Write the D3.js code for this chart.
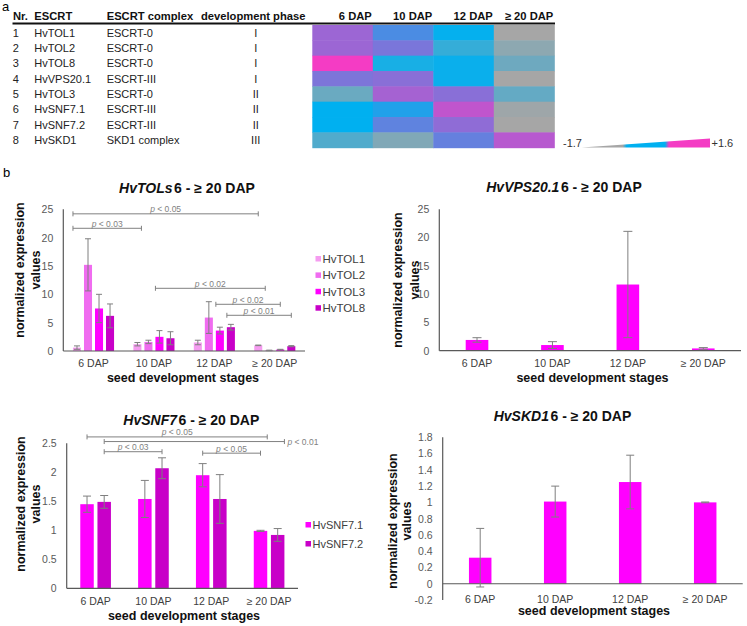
<!DOCTYPE html>
<html><head><meta charset="utf-8">
<script src="https://cdn.jsdelivr.net/npm/d3@7"></script>
<style>
body{margin:0;background:#fff}
svg{display:block;font-family:"Liberation Sans",Arial,sans-serif}
</style>
</head><body>
<svg id="c" width="747" height="626"></svg>
<script>
// ================= DATA =================
// Panel a: table + heatmap
const tableNr = ["1","2","3","4","5","6","7","8"];
const escrtNames = ["HvTOL1","HvTOL2","HvTOL8","HvVPS20.1","HvTOL3","HvSNF7.1","HvSNF7.2","HvSKD1"];
const escrtComplex = ["ESCRT-0","ESCRT-0","ESCRT-0","ESCRT-III","ESCRT-0","ESCRT-III","ESCRT-III","SKD1 complex"];
const devPhase = ["I","I","I","I","II","II","II","III"];
const tableHeaders = ["Nr.","ESCRT","ESCRT complex","development phase"];
const heatColumns = ["6 DAP","10 DAP","12 DAP","≥ 20 DAP"];
const heatValues = [
  [1.02, 0.49, -0.05, -1.70],
  [1.02, 0.80, -0.54, -1.44],
  [1.60, -0.25, -0.10, -1.13],
  [0.82, 0.90, -0.10, -1.70],
  [-1.09, 1.08, 0.90, -1.02],
  [0.00, 0.21, 1.26, -1.62],
  [0.00, 0.62, 0.94, -1.70],
  [-0.82, -1.31, 0.66, 1.20]
];
const heatDomain = [-1.7, 0, 1.6];
const heatScaleLabels = ["-1.7", "+1.6"];

// Panel b: bar charts
const stages = ["6 DAP","10 DAP","12 DAP","≥ 20 DAP"];

const tolSeries = ["HvTOL1","HvTOL2","HvTOL3","HvTOL8"];
const tol1Mean = [0.6, 1.2, 1.5, 1.0];
const tol1Err  = [0.3, 0.3, 0.4, 0.05];
const tol2Mean = [15.2, 1.6, 5.9, 0.1];
const tol2Err  = [4.6, 0.3, 2.8, 0.05];
const tol3Mean = [7.5, 2.5, 3.6, 0.25];
const tol3Err  = [2.5, 1.1, 0.6, 0.05];
const tol8Mean = [6.2, 2.25, 4.2, 0.85];
const tol8Err  = [2.1, 1.15, 0.5, 0.1];
const tolTicks = [0, 5, 10, 15, 20, 25];
const tolTickLabels = ["0","5","10","15","20","25"];

const vpsMean = [1.9, 1.0, 11.7, 0.4];
const vpsErr  = [0.4, 0.6, 9.4, 0.15];
const vpsTicks = [0, 5, 10, 15, 20, 25];
const vpsTickLabels = ["0","5","10","15","20","25"];

const snfSeries = ["HvSNF7.1","HvSNF7.2"];
const snf71Mean = [1.45, 1.54, 1.95, 0.99];
const snf71Err  = [0.14, 0.32, 0.2, 0.01];
const snf72Mean = [1.49, 2.07, 1.54, 0.92];
const snf72Err  = [0.11, 0.18, 0.42, 0.11];
const snfTicks = [0, 0.5, 1, 1.5, 2, 2.5];
const snfTickLabels = ["0","0.5","1","1.5","2","2.5"];

const skdMean = [0.32, 1.01, 1.25, 1.0];
const skdErr  = [0.36, 0.19, 0.33, 0.005];
const skdTicks = [-0.2, 0, 0.2, 0.4, 0.6, 0.8, 1, 1.2, 1.4, 1.6, 1.8];
const skdTickLabels = ["-0.2","0","0.2","0.4","0.6","0.8","1","1.2","1.4","1.6","1.8"];

// significance brackets (reference: [stage, series, side of bar])
const tolBrackets = [
  {from:["6 DAP","HvTOL1","l"], to:["≥ 20 DAP","HvTOL1","c"], level:24.2, p:"0.05"},
  {from:["6 DAP","HvTOL1","l"], to:["10 DAP","HvTOL1","r"], level:21.65, p:"0.03"},
  {from:["10 DAP","HvTOL3","l"], to:["≥ 20 DAP","HvTOL2","l"], level:11.06, p:"0.02"},
  {from:["12 DAP","HvTOL3","l"], to:["≥ 20 DAP","HvTOL3","c"], level:8.24, p:"0.02"},
  {from:["12 DAP","HvTOL8","l"], to:["≥ 20 DAP","HvTOL8","c"], level:6.3, p:"0.01"}
];
const snfBrackets = [
  {from:["6 DAP","HvSNF7.1","c"], to:["≥ 20 DAP","HvSNF7.1","r"], level:2.61, p:"0.05"},
  {from:["6 DAP","HvSNF7.2","c"], to:["≥ 20 DAP","HvSNF7.2","r"], level:2.53, p:"0.01", outside:true},
  {from:["6 DAP","HvSNF7.2","c"], to:["10 DAP","HvSNF7.2","c"], level:2.355, p:"0.03"},
  {from:["12 DAP","HvSNF7.1","c"], to:["≥ 20 DAP","HvSNF7.1","c"], level:2.33, p:"0.05"}
];

// ================= DRAWING =================
const svg = d3.select("#c");
const FONT = '"Liberation Sans",Arial,sans-serif';

// ---- panel labels
svg.append("text").attr("x",2).attr("y",10.5).attr("font-size",13).text("a");
svg.append("text").attr("x",3).attr("y",177).attr("font-size",13).text("b");

// ---- panel a table
const heatX = d3.scaleBand().domain(heatColumns).range([312.3, 554.3]);
const rowY = d3.scaleBand().domain(d3.range(escrtNames.length)).range([25, 147.7]);
const colorScale = d3.scaleLinear().domain(heatDomain)
  .range(["#a6a6a6","#00b0f0","#f43cc4"]).interpolate(d3.interpolateRgb);

const hdrX = [13, 34.3, 106.7, 201];
tableHeaders.forEach((h,i)=>{
  svg.append("text").attr("x",hdrX[i]).attr("y",20).attr("font-size",11.2)
    .attr("font-weight","bold").attr("fill","#111").text(h);
});
heatColumns.forEach(c=>{
  svg.append("text").attr("x",heatX(c)+heatX.bandwidth()-1).attr("y",20)
    .attr("text-anchor","end").attr("font-size",11.2).attr("font-weight","bold")
    .attr("fill","#111").text(c);
});
svg.append("line").attr("x1",12.5).attr("x2",555).attr("y1",23.5).attr("y2",23.5)
  .attr("stroke","#111").attr("stroke-width",2);

const rowsG = svg.append("g").attr("font-size",11).attr("fill","#222");
escrtNames.forEach((n,i)=>{
  const yb = rowY(i) + rowY.bandwidth()/2 + 4;
  rowsG.append("text").attr("x",12.7).attr("y",yb).text(tableNr[i]);
  rowsG.append("text").attr("x",34.3).attr("y",yb).text(n);
  rowsG.append("text").attr("x",106.7).attr("y",yb).text(escrtComplex[i]);
  rowsG.append("text").attr("x",255.7).attr("y",yb).attr("text-anchor","middle").text(devPhase[i]);
});

// heatmap cells
heatValues.forEach((row,i)=>{
  row.forEach((v,j)=>{
    svg.append("rect").attr("x",heatX(heatColumns[j])).attr("y",rowY(i))
      .attr("width",heatX.bandwidth()+0.5).attr("height",rowY.bandwidth()+0.5)
      .attr("fill",colorScale(v));
  });
});

// colour scale wedge legend
const defs = svg.append("defs");
const grad = defs.append("linearGradient").attr("id","wedge").attr("x1","0%").attr("x2","100%");
const legScale = d3.scaleLinear().domain([heatDomain[0], heatDomain[2]]).range([581.7, 710]);
[[0,heatDomain[0]],[0.32,heatDomain[0]],[0.35,heatDomain[1]],[0.65,heatDomain[1]],[0.68,heatDomain[2]],[1,heatDomain[2]]]
  .forEach(([o,v])=>grad.append("stop").attr("offset",o).attr("stop-color",colorScale(v)));
svg.append("polygon")
  .attr("points",[[legScale(heatDomain[0]),147.6],[legScale(heatDomain[2]),147.6],[legScale(heatDomain[2]),138.6]].map(p=>p.join(",")).join(" "))
  .attr("fill","url(#wedge)");
svg.append("text").attr("x",563).attr("y",147.3).attr("font-size",11).attr("fill","#333").text(heatScaleLabels[0]);
svg.append("text").attr("x",711.5).attr("y",147.3).attr("font-size",11).attr("fill","#333").text(heatScaleLabels[1]);

// ---- generic bar-chart panel
function panel(o){
  const g = svg.append("g");
  const x = d3.scaleBand().domain(stages).range([o.x0, o.x1]);
  const y = d3.scaleLinear().domain(o.domain).range([o.yBottom, o.yTop]);
  const names = o.series.map(s=>s.name);
  const bw = x.bandwidth();
  const sub = d3.scaleBand().domain(names)
    .range([bw*(1-o.groupFrac)/2, bw*(1+o.groupFrac)/2]).paddingInner(o.padInner);

  // title
  const t = g.append("text").attr("x",o.titleX).attr("y",o.titleY).attr("text-anchor","middle")
    .attr("font-size",14).attr("font-weight","bold").attr("fill","#111");
  t.append("tspan").attr("font-style","italic").text(o.titleItalic);
  t.append("tspan").attr("dx",1.5).text(o.titleRest);

  // y axis
  const ax = g.append("g").attr("transform",`translate(${o.x0},0)`)
    .call(d3.axisLeft(y).tickValues(o.ticks).tickFormat((d,i)=>o.tickLabels[i]).tickSize(0).tickPadding(10));
  ax.select(".domain").remove();
  ax.selectAll("text").attr("font-family",FONT).attr("font-size",10.5).attr("fill","#595959");
  g.append("line").attr("x1",o.x0).attr("x2",o.x0).attr("y1",y(o.domain[1])).attr("y2",y(o.domain[0]))
    .attr("stroke","#595959").attr("stroke-width",1.2);

  // bars
  o.series.forEach(s=>{
    s.mean.forEach((v,i)=>{
      const bx = x(stages[i]) + sub(s.name);
      g.append("rect").attr("x",bx).attr("width",sub.bandwidth())
        .attr("y",Math.min(y(v),y(0))).attr("height",Math.abs(y(0)-y(v)))
        .attr("fill",s.color);
    });
  });
  // x axis line at zero
  g.append("line").attr("x1",o.x0).attr("x2",o.x1).attr("y1",y(0)).attr("y2",y(0))
    .attr("stroke","#595959").attr("stroke-width",1.2);
  // error bars
  o.series.forEach(s=>{
    s.mean.forEach((v,i)=>{
      const cx = x(stages[i]) + sub(s.name) + sub.bandwidth()/2;
      const e = s.err[i];
      const eg = g.append("g").attr("stroke","#7f7f7f").attr("stroke-width",1);
      eg.append("line").attr("x1",cx).attr("x2",cx).attr("y1",y(v+e)).attr("y2",y(v-e));
      [v+e, v-e].forEach(yy=>eg.append("line").attr("x1",cx-o.capW/2).attr("x2",cx+o.capW/2)
        .attr("y1",y(yy)).attr("y2",y(yy)));
    });
  });

  // category labels
  stages.forEach(c=>{
    g.append("text").attr("x",x(c)+bw/2).attr("y",o.catY).attr("text-anchor","middle")
      .attr("font-size",10.5).attr("fill","#404040").text(c);
  });
  // axis titles
  g.append("text").attr("x",o.xTitleX).attr("y",o.xTitleY).attr("text-anchor","middle")
    .attr("font-size",12.5).attr("font-weight","bold").attr("fill","#111").text("seed development stages");
  [["normalized expression",o.yTitleB1],["values",o.yTitleB2]].forEach(([txt,bx])=>{
    g.append("text").attr("transform",`translate(${bx},${o.yTitleC}) rotate(-90)`)
      .attr("text-anchor","middle").attr("font-size",12.5).attr("font-weight","bold").attr("fill","#111").text(txt);
  });

  // legend
  if(o.legend){
    o.series.forEach((s,i)=>{
      const ly = o.legend.y + i*o.legend.step;
      g.append("rect").attr("x",o.legend.x).attr("y",ly-3).attr("width",5.5).attr("height",5.5).attr("fill",s.color);
      g.append("text").attr("x",o.legend.x+7).attr("y",ly+4).attr("font-size",o.legend.fs).attr("fill","#404040").text(s.name);
    });
  }

  // brackets
  (o.brackets||[]).forEach(b=>{
    const px = ([c,n,side]) => x(c)+sub(n)+(side==="l"?0:side==="r"?sub.bandwidth():sub.bandwidth()/2);
    const x1 = px(b.from), x2 = px(b.to), yy = y(b.level);
    const bg = g.append("g").attr("stroke","#808080").attr("stroke-width",1);
    bg.append("line").attr("x1",x1).attr("x2",x2).attr("y1",yy).attr("y2",yy);
    [x1,x2].forEach(xx=>bg.append("line").attr("x1",xx).attr("x2",xx).attr("y1",yy-2.5).attr("y2",yy+2.5));
    const t = g.append("text").attr("font-size",8.5).attr("fill","#7f7f7f");
    if(b.outside){ t.attr("x",x2+3).attr("y",yy+3); }
    else { t.attr("x",(x1+x2)/2).attr("y",yy-1.5).attr("text-anchor","middle"); }
    t.append("tspan").attr("font-style","italic").text("p");
    t.append("tspan").text(" < " + b.p);
  });
}

panel({
  x0:63.3, x1:305, yTop:209.3, yBottom:351, domain:[0,25], ticks:tolTicks, tickLabels:tolTickLabels,
  titleItalic:"HvTOLs", titleRest:"6 - ≥ 20 DAP", titleX:187, titleY:192.5,
  series:[
    {name:tolSeries[0], mean:tol1Mean, err:tol1Err, color:"#f59cf0"},
    {name:tolSeries[1], mean:tol2Mean, err:tol2Err, color:"#f06cf0"},
    {name:tolSeries[2], mean:tol3Mean, err:tol3Err, color:"#ff00ff"},
    {name:tolSeries[3], mean:tol8Mean, err:tol8Err, color:"#c800c8"}],
  groupFrac:0.68, padInner:0.27, capW:6,
  catY:366.7, xTitleX:183, xTitleY:381.7, yTitleB1:24, yTitleB2:40, yTitleC:270,
  legend:{x:315.5, y:259, step:16.4, fs:11.5}, brackets:tolBrackets
});
panel({
  x0:439.3, x1:741, yTop:209.3, yBottom:350.7, domain:[0,25], ticks:vpsTicks, tickLabels:vpsTickLabels,
  titleItalic:"HvVPS20.1", titleRest:"6 - ≥ 20 DAP", titleX:564, titleY:192.3,
  series:[{name:"HvVPS20.1", mean:vpsMean, err:vpsErr, color:"#ff00ff"}],
  groupFrac:0.3, padInner:0, capW:9,
  catY:366.7, xTitleX:592.5, xTitleY:381.7, yTitleB1:402.3, yTitleB2:419, yTitleC:280
});
panel({
  x0:66.7, x1:298, yTop:443.3, yBottom:588.3, domain:[0,2.5], ticks:snfTicks, tickLabels:snfTickLabels,
  titleItalic:"HvSNF7", titleRest:"6 - ≥ 20 DAP", titleX:191.3, titleY:424.8,
  series:[
    {name:snfSeries[0], mean:snf71Mean, err:snf71Err, color:"#ff00ff"},
    {name:snfSeries[1], mean:snf72Mean, err:snf72Err, color:"#c800c8"}],
  groupFrac:0.53, padInner:0.215, capW:8,
  catY:605, xTitleX:184, xTitleY:620, yTitleB1:25, yTitleB2:39.5, yTitleC:504,
  legend:{x:305.5, y:525, step:19, fs:11}, brackets:snfBrackets
});
panel({
  x0:442.7, x1:742.7, yTop:437.3, yBottom:600, domain:[-0.2,1.8], ticks:skdTicks, tickLabels:skdTickLabels,
  titleItalic:"HvSKD1", titleRest:"6 - ≥ 20 DAP", titleX:562.5, titleY:420.7,
  series:[{name:"HvSKD1", mean:skdMean, err:skdErr, color:"#ff00ff"}],
  groupFrac:0.3, padInner:0, capW:8,
  catY:603.3, xTitleX:594, xTitleY:615, yTitleB1:396.7, yTitleB2:411, yTitleC:521
});
</script>
</body></html>
